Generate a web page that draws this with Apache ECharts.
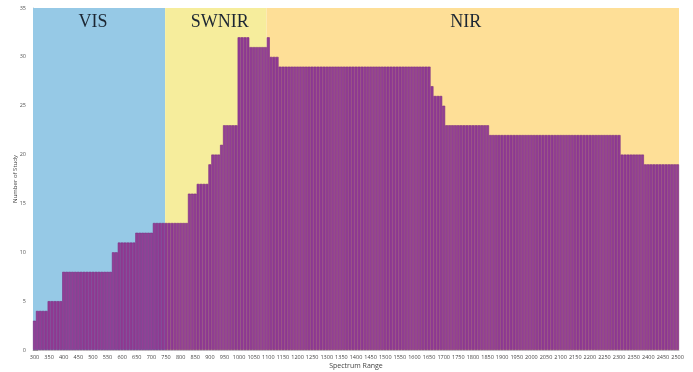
<!DOCTYPE html>
<html>
<head>
<meta charset="utf-8">
<style>
  html, body { margin: 0; padding: 0; background: #ffffff; }
  #chart { width: 693px; height: 372px; }
</style>
<script src="https://cdn.jsdelivr.net/npm/echarts@6/dist/echarts.min.js"></script>
</head>
<body>
<div id="chart"></div>
<script>
// Wavelength bins (nm), one bar per 10 nm
const wavelengths = [
  300, 310, 320, 330, 340, 350, 360, 370, 380, 390,
  400, 410, 420, 430, 440, 450, 460, 470, 480, 490,
  500, 510, 520, 530, 540, 550, 560, 570, 580, 590,
  600, 610, 620, 630, 640, 650, 660, 670, 680, 690,
  700, 710, 720, 730, 740, 750, 760, 770, 780, 790,
  800, 810, 820, 830, 840, 850, 860, 870, 880, 890,
  900, 910, 920, 930, 940, 950, 960, 970, 980, 990,
  1000, 1010, 1020, 1030, 1040, 1050, 1060, 1070, 1080, 1090,
  1100, 1110, 1120, 1130, 1140, 1150, 1160, 1170, 1180, 1190,
  1200, 1210, 1220, 1230, 1240, 1250, 1260, 1270, 1280, 1290,
  1300, 1310, 1320, 1330, 1340, 1350, 1360, 1370, 1380, 1390,
  1400, 1410, 1420, 1430, 1440, 1450, 1460, 1470, 1480, 1490,
  1500, 1510, 1520, 1530, 1540, 1550, 1560, 1570, 1580, 1590,
  1600, 1610, 1620, 1630, 1640, 1650, 1660, 1670, 1680, 1690,
  1700, 1710, 1720, 1730, 1740, 1750, 1760, 1770, 1780, 1790,
  1800, 1810, 1820, 1830, 1840, 1850, 1860, 1870, 1880, 1890,
  1900, 1910, 1920, 1930, 1940, 1950, 1960, 1970, 1980, 1990,
  2000, 2010, 2020, 2030, 2040, 2050, 2060, 2070, 2080, 2090,
  2100, 2110, 2120, 2130, 2140, 2150, 2160, 2170, 2180, 2190,
  2200, 2210, 2220, 2230, 2240, 2250, 2260, 2270, 2280, 2290,
  2300, 2310, 2320, 2330, 2340, 2350, 2360, 2370, 2380, 2390,
  2400, 2410, 2420, 2430, 2440, 2450, 2460, 2470, 2480, 2490,
  2500
];

// Number of studies covering each wavelength bin
const studyCounts = [
  3, 4, 4, 4, 4, 5, 5, 5, 5, 5,
  8, 8, 8, 8, 8, 8, 8, 8, 8, 8,
  8, 8, 8, 8, 8, 8, 8, 10, 10, 11,
  11, 11, 11, 11, 11, 12, 12, 12, 12, 12,
  12, 13, 13, 13, 13, 13, 13, 13, 13, 13,
  13, 13, 13, 16, 16, 16, 17, 17, 17, 17,
  19, 20, 20, 20, 21, 23, 23, 23, 23, 23,
  32, 32, 32, 32, 31, 31, 31, 31, 31, 31,
  32, 30, 30, 30, 29, 29, 29, 29, 29, 29,
  29, 29, 29, 29, 29, 29, 29, 29, 29, 29,
  29, 29, 29, 29, 29, 29, 29, 29, 29, 29,
  29, 29, 29, 29, 29, 29, 29, 29, 29, 29,
  29, 29, 29, 29, 29, 29, 29, 29, 29, 29,
  29, 29, 29, 29, 29, 29, 27, 26, 26, 26,
  25, 23, 23, 23, 23, 23, 23, 23, 23, 23,
  23, 23, 23, 23, 23, 23, 22, 22, 22, 22,
  22, 22, 22, 22, 22, 22, 22, 22, 22, 22,
  22, 22, 22, 22, 22, 22, 22, 22, 22, 22,
  22, 22, 22, 22, 22, 22, 22, 22, 22, 22,
  22, 22, 22, 22, 22, 22, 22, 22, 22, 22,
  22, 20, 20, 20, 20, 20, 20, 20, 20, 19,
  19, 19, 19, 19, 19, 19, 19, 19, 19, 19,
  19
];

// Spectral regions shaded behind the bars (nm)
const regionNames  = ['VIS', 'SWNIR', 'NIR'];
const regionStarts = [295, 747, 1094];
const regionEnds   = [747, 1094, 2505];
const regionColors = ['#96c9e6', '#f6ed9c', '#fedf97'];
const regionLabelShift = [-6, 4, -7];

const yTicks = { min: 0, max: 35, step: 5 };

const chart = echarts.init(document.getElementById('chart'), null, { renderer: 'canvas' });

const regionAreas = regionNames.map((name, i) => [
  {
    name: name,
    xAxis: regionStarts[i],
    yAxis: yTicks.min,
    itemStyle: { color: regionColors[i], opacity: 1 },
    label: { offset: [regionLabelShift[i], 0] }
  },
  { xAxis: regionEnds[i], yAxis: yTicks.max }
]);

chart.setOption({
  animation: false,
  backgroundColor: '#ffffff',
  grid: {
    left: 33, right: 14, top: 8, bottom: 22,
    containLabel: false,
    outerBoundsMode: 'none'
  },
  xAxis: [
    {
      type: 'category',
      data: wavelengths.map(String),
      boundaryGap: true,
      name: 'Spectrum Range',
      nameLocation: 'middle',
      nameGap: 12,
      nameMoveOverlap: false,
      nameTextStyle: { fontFamily: 'Open Sans', fontSize: 7, color: '#444' },
      axisLine: { show: true, lineStyle: { color: '#c8c8c8', width: 1 } },
      axisTick: { show: false },
      axisLabel: {
        interval: 4,
        fontFamily: 'Open Sans',
        fontSize: 5.5,
        color: '#444',
        margin: 4
      },
      splitLine: { show: false }
    },
    {
      type: 'value',
      min: regionStarts[0],
      max: regionEnds[regionEnds.length - 1],
      show: false
    }
  ],
  yAxis: {
    type: 'value',
    min: yTicks.min,
    max: yTicks.max,
    interval: yTicks.step,
    name: 'Number of Study',
    nameLocation: 'middle',
    nameGap: 15,
    nameMoveOverlap: false,
    nameRotate: 90,
    nameTextStyle: { fontFamily: 'Open Sans', fontSize: 6, color: '#444' },
    axisLine: { show: true, lineStyle: { color: '#c8c8c8', width: 1 } },
    axisTick: { show: true, inside: true, length: 5, lineStyle: { color: '#9a9a9a' } },
    axisLabel: { fontFamily: 'Open Sans', fontSize: 5.5, color: '#555', margin: 7 },
    splitLine: { show: false }
  },
  series: [
    {
      name: 'regions',
      type: 'line',
      xAxisIndex: 1,
      yAxisIndex: 0,
      z: 1,
      data: [[regionStarts[0], yTicks.min]],
      symbol: 'none',
      lineStyle: { opacity: 0 },
      silent: true,
      markArea: {
        silent: true,
        label: {
          show: true,
          position: 'insideTop',
          distance: 5,
          fontFamily: 'Liberation Serif',
          fontSize: 18,
          color: '#1c2633'
        },
        data: regionAreas
      }
    },
    {
      name: 'Number of Study',
      type: 'bar',
      z: 3,
      data: studyCounts,
      barWidth: '100%',
      barCategoryGap: 0,
      itemStyle: {
        color: '#933e96',
        borderColor: '#7a2b7f',
        borderWidth: 0.6
      }
    }
  ]
});
</script>
</body>
</html>
